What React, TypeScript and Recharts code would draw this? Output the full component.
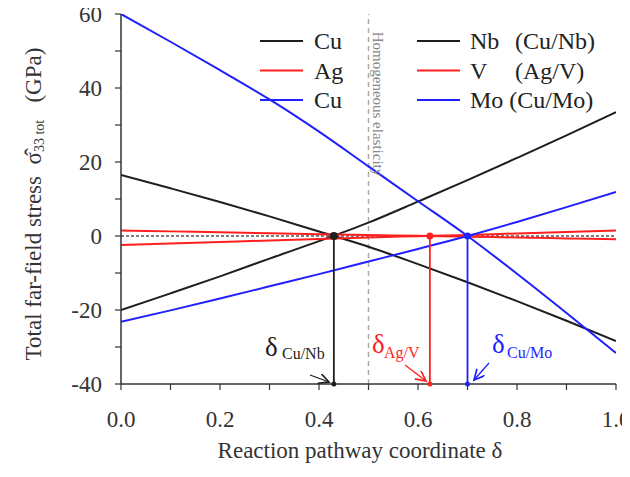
import React from 'react';
import { LineChart, Line, XAxis, YAxis, ReferenceLine, ReferenceDot } from 'recharts';

// reaction pathway coordinate δ
const deltas = [0, 0.1, 0.2, 0.3, 0.4, 0.5, 0.6, 0.7, 0.8, 0.9, 1.0];

// stress values (GPa)
const cuInCuNb = [16.5, 12.9, 9.2, 5.3, 1.2, -2.9, -7.6, -12.5, -17.6, -22.9, -28.4];
const nbInCuNb = [-20, -15.5, -10.9, -6.1, -1.4, 3.6, 9.3, 15.1, 21.1, 27.2, 33.5];
const agInAgV = [1.5, 1.25, 1.0, 0.75, 0.5, 0.25, 0.05, -0.2, -0.4, -0.65, -0.9];
const vInAgV = [-2.4, -2.0, -1.6, -1.2, -0.8, -0.4, -0.05, 0.3, 0.7, 1.1, 1.5];
const cuInCuMo = [60, 52.5, 44.8, 36.9, 28.2, 18.8, 9.4, 0, -10.2, -20.8, -31.6];
const moInCuMo = [-23.2, -20.1, -16.9, -13.6, -10.3, -6.9, -3.5, 0, 3.8, 7.8, 11.9];

// zero-stress coordinates
const critical = [
  { label: 'Cu/Nb', delta: 0.43 },
  { label: 'Ag/V', delta: 0.624 },
  { label: 'Cu/Mo', delta: 0.7 },
];

const xTicks = [0, 0.1, 0.2, 0.3, 0.4, 0.5, 0.6, 0.7, 0.8, 0.9, 1.0];
const yTicks = [-40, -30, -20, -10, 0, 10, 20, 30, 40, 50, 60];

const BLACK = '#1e1e1e';
const RED = '#ff1f1f';
const BLUE = '#1f1fff';
const AXIS = '#333';
const FONT = '"Liberation Serif", "Times New Roman", serif';

const pairColors = [BLACK, RED, BLUE];

const toPoints = (vals: number[]) => deltas.map((d, i) => ({ x: d, y: vals[i] }));

const series = [
  { key: 'cuNb', values: cuInCuNb, color: BLACK },
  { key: 'nb', values: nbInCuNb, color: BLACK },
  { key: 'ag', values: agInAgV, color: RED },
  { key: 'v', values: vInAgV, color: RED },
  { key: 'cuMo', values: cuInCuMo, color: BLUE },
  { key: 'mo', values: moInCuMo, color: BLUE },
];

const legendRows = [
  { left: 'Cu', right: 'Nb', pair: '(Cu/Nb)', color: BLACK },
  { left: 'Ag', right: 'V', pair: '(Ag/V)', color: RED },
  { left: 'Cu', right: 'Mo (Cu/Mo)', pair: '', color: BLUE },
];

const W = 630;
const H = 477;

const BottomTick = (props: any) => {
  const { x, y, payload } = props;
  const major = Math.round(payload.value * 10) % 2 === 0;
  return (
    <g>
      <line x1={x} y1={y} x2={x} y2={y + 6} stroke={AXIS} strokeWidth={1.2} />
      {major && (
        <text x={x} y={y + 43} textAnchor="middle" fontSize={23} fontFamily={FONT} fill="#333">
          {payload.value.toFixed(1)}
        </text>
      )}
    </g>
  );
};

const TopTick = (props: any) => {
  const { x, y } = props;
  return <line x1={x} y1={y} x2={x} y2={y + 6} stroke={AXIS} strokeWidth={1.2} />;
};

const LeftTick = (props: any) => {
  const { x, y, payload } = props;
  const major = payload.value % 20 === 0;
  return (
    <g>
      <line x1={x} y1={y} x2={x - 6} y2={y} stroke={AXIS} strokeWidth={1.2} />
      {major && (
        <text x={x - 19} y={y + 8} textAnchor="end" fontSize={23} fontFamily={FONT} fill="#333">
          {payload.value}
        </text>
      )}
    </g>
  );
};

const RightTick = (props: any) => {
  const { x, y } = props;
  return <line x1={x} y1={y} x2={x - 6} y2={y} stroke={AXIS} strokeWidth={1.2} />;
};

const Overlay = () => (
  <svg
    width={W}
    height={H}
    style={{ position: 'absolute', left: 0, top: 0, pointerEvents: 'none', fontFamily: FONT }}
  >
    <defs>
      {pairColors.map((c, i) => (
        <marker key={i} id={`arr${i}`} markerWidth={10} markerHeight={10} refX={8} refY={4} orient="auto">
          <path d="M0,0 L8,4 L0,8" fill="none" stroke={c} strokeWidth={1.3} />
        </marker>
      ))}
    </defs>

    {/* legend */}
    {legendRows.map((r, i) => {
      const y = 41 + i * 29.5;
      return (
        <g key={i}>
          <line x1={260} x2={303} y1={y} y2={y} stroke={r.color} strokeWidth={2} />
          <text x={314} y={y + 8} fontSize={24} fill="#222">{r.left}</text>
          <line x1={417} x2={460} y1={y} y2={y} stroke={r.color} strokeWidth={2} />
          <text x={470} y={y + 8} fontSize={24} fill="#222">{r.right}</text>
          {r.pair && <text x={515} y={y + 8} fontSize={24} fill="#222">{r.pair}</text>}
        </g>
      );
    })}

    {/* homogeneous elasticity label */}
    <text x={378} y={104} fontSize={15} fill="#888" textAnchor="middle" dominantBaseline="central"
      transform="rotate(90 378 104)">
      Homogeneous elasticity
    </text>

    {/* y axis title */}
    <text x={33} y={204} fontSize={23} fill="#333" textAnchor="middle" transform="rotate(-90 33 204)"
      dominantBaseline="central" xmlSpace="preserve">
      Total far-field stress  {'\u03C3\u0302'}<tspan dy={6} fontSize={14}>33 tot</tspan><tspan dy={-6}>   (GPa)</tspan>
    </text>

    {/* x axis title */}
    <text x={360} y={458} fontSize={23} fill="#333" textAnchor="middle">
      Reaction pathway coordinate δ
    </text>

    {/* delta annotations */}
    <text x={265} y={356} fontSize={27} fill={BLACK}>δ</text>
    <text x={282} y={359} fontSize={16} fill={BLACK}>Cu/Nb</text>
    <line x1={310} y1={375} x2={329} y2={382} stroke={BLACK} strokeWidth={1.3} markerEnd="url(#arr0)" />

    <text x={372} y={353} fontSize={27} fill={RED}>δ</text>
    <text x={384} y={358} fontSize={16} fill={RED}>Ag/V</text>
    <line x1={405} y1={365} x2={426} y2={381} stroke={RED} strokeWidth={1.3} markerEnd="url(#arr1)" />

    <text x={492} y={353} fontSize={27} fill={BLUE}>δ</text>
    <text x={507} y={358} fontSize={16} fill={BLUE}>Cu/Mo</text>
    <line x1={489} y1={363} x2={474} y2={380} stroke={BLUE} strokeWidth={1.3} markerEnd="url(#arr2)" />
  </svg>
);

export default function App() {
  return (
    <div style={{ position: 'relative', width: W, height: H, margin: -8, background: '#fff' }}>
      <LineChart width={W} height={H} margin={{ top: 14, right: 14, bottom: 0, left: 0 }}>
        <XAxis
          dataKey="x"
          type="number"
          domain={[0, 1]}
          ticks={xTicks}
          interval={0}
          height={93}
          tickSize={0}
          tickMargin={0}
          tick={<BottomTick />}
          axisLine={{ stroke: AXIS, strokeWidth: 1.5 }}
          allowDataOverflow
        />
        <XAxis
          xAxisId="t"
          orientation="top"
          dataKey="x"
          type="number"
          domain={[0, 1]}
          ticks={xTicks}
          interval={0}
          height={0}
          tickSize={0}
          tickMargin={0}
          tick={<TopTick />}
          axisLine={{ stroke: AXIS, strokeWidth: 1.5 }}
        />
        <YAxis
          type="number"
          domain={[-40, 60]}
          ticks={yTicks}
          interval={0}
          width={121}
          tickSize={0}
          tickMargin={0}
          tick={<LeftTick />}
          axisLine={{ stroke: AXIS, strokeWidth: 1.5 }}
          allowDataOverflow
        />
        <YAxis
          yAxisId="r"
          orientation="right"
          type="number"
          domain={[-40, 60]}
          ticks={yTicks}
          interval={0}
          width={0}
          tickSize={0}
          tickMargin={0}
          tick={<RightTick />}
          axisLine={{ stroke: AXIS, strokeWidth: 1.5 }}
        />

        <ReferenceLine x={0.5} stroke="#aaa" strokeWidth={1.5} strokeDasharray="5 4" />
        <ReferenceLine y={0} stroke="#000" strokeWidth={1.2} strokeDasharray="3 2" />

        {series.map((s) => (
          <Line
            key={s.key}
            data={toPoints(s.values)}
            dataKey="y"
            type="monotone"
            stroke={s.color}
            strokeWidth={2}
            dot={false}
            activeDot={false}
            isAnimationActive={false}
          />
        ))}

        {critical.map((c, i) => (
          <ReferenceLine
            key={`v${i}`}
            segment={[{ x: c.delta, y: 0 }, { x: c.delta, y: -40 }]}
            stroke={pairColors[i]}
            strokeWidth={1.8}
          />
        ))}
        {critical.map((c, i) => (
          <ReferenceDot key={`d${i}`} x={c.delta} y={0} r={i === 0 ? 4 : 3.5} fill={pairColors[i]} stroke="none" />
        ))}
        {critical.map((c, i) => (
          <ReferenceDot key={`b${i}`} x={c.delta} y={-40} r={2.5} fill={pairColors[i]} stroke="none" />
        ))}
      </LineChart>
      <Overlay />
    </div>
  );
}
